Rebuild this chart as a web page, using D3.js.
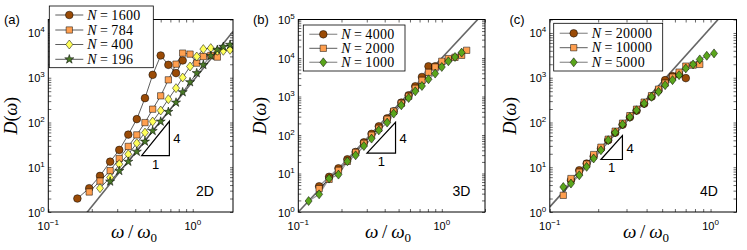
<!DOCTYPE html>
<html><head><meta charset="utf-8">
<script src="https://cdn.jsdelivr.net/npm/d3@7"></script>
<style>body{margin:0;background:#fff}svg{display:block}</style>
</head><body><svg id="c" width="747" height="250"></svg>
<script>
// ---------------- DATA ----------------
// Panel (a) 2D
const a_w1600 = [0.159,0.192,0.228,0.268,0.310,0.358,0.410,0.467,0.528,0.600,0.678,0.766,0.852];
const a_D1600 = [2.0,3.4,6.4,13.3,24.4,53.6,119,350,1160,3140,1940,1270,2430];
const a_w784  = [0.192,0.228,0.268,0.310,0.358,0.410,0.467,0.528,0.600,0.678,0.766,0.852,0.958,1.066,1.184,1.333,1.480];
const a_D784  = [2.8,4.9,8.4,15.7,29.2,52.8,99.5,198,394,897,2010,3550,3370,2120,2980,3140,2890];
const a_w400  = [0.228,0.268,0.310,0.358,0.410,0.467,0.528,0.600,0.678,0.766,0.852,0.958,1.066,1.184,1.333,1.480,1.628,1.812];
const a_D400  = [3.4,5.9,11.7,19.5,34.4,59.4,105,185,332,585,1010,1780,2980,4360,4590,4000,4000,4210];
const a_w196  = [0.268,0.310,0.358,0.410,0.467,0.528,0.600,0.678,0.766,0.852,0.958,1.066,1.184,1.333,1.480,1.628,1.812];
const a_D196  = [4.8,8.3,13.3,22.3,37.4,64.9,105,173,279,476,797,1270,1940,3090,4210,4910,5450];
// Panel (b) 3D
const b_w4000 = [0.1397,0.1639,0.1905,0.2198,0.2509,0.2865,0.3239,0.3639,0.4160,0.4622,0.5224,0.5871,0.6533,0.7270,0.8077,0.8987];
const b_D4000 = [4.65,8.21,13.65,23.4,36.2,64.6,107,168,271,413,694,1075,1841,3210,6085,6085];
const b_w2000 = [0.1397,0.1639,0.1905,0.2198,0.2509,0.2865,0.3239,0.3639,0.4160,0.4622,0.5224,0.5871,0.6533,0.7270,0.8077,0.8987,1.0,1.111,1.236,1.375,1.490];
const b_D2000 = [4.05,7.07,12.1,20.7,35.5,60.9,98.3,149,256,413,666,1012,1633,2636,4253,5840,8210,9645,10420,11750,15850];
const b_w1000 = [0.118,0.1397,0.1639,0.1905,0.2198,0.2509,0.2865,0.3239,0.3639,0.4160,0.4622,0.5224,0.5871,0.6533,0.7270,0.8077,0.8987,1.0,1.111,1.236,1.375];
const b_D1000 = [1.93,2.88,7.37,9.36,20.7,29.7,51.8,80.6,132,210,360,591,914,1365,1874,2798,3936,5840,8210,10620,13810];
// Panel (c) 4D
const c_w20000 = [0.1354,0.1525,0.1695,0.1874,0.2080,0.2309,0.2551,0.2836,0.3148,0.3465,0.3864,0.4294,0.4747,0.5216,0.5799,0.6372,0.7015];
const c_D20000 = [5.12,8.57,12.1,17.6,26.2,40.2,59.1,89.3,131,184,263,378,528,884,1086,1204,980];
const c_w10000 = [0.1213,0.1354,0.1525,0.1695,0.1874,0.2080,0.2309,0.2551,0.2836,0.3148,0.3465,0.3864,0.4294,0.4747,0.5216,0.5799,0.6372,0.7015,0.7785,0.8568];
const c_D10000 = [2.36,5.59,7.73,11.7,19.2,28.0,42.3,63.9,96.5,142,198,285,398,556,757,1031,1334,1817,1914,1984];
const c_w5000 = [0.1213,0.1354,0.1525,0.1695,0.1874,0.2080,0.2309,0.2551,0.2836,0.3148,0.3465,0.3864,0.4294,0.4747,0.5216,0.5799,0.6372,0.7015,0.7785,0.8568,0.9471,1.051];
const c_D5000 = [3.62,4.32,6.62,10.2,15.7,24.0,40.2,59.7,90.2,133,188,266,374,484,683,884,1143,1615,1984,2567,3090,3497];

// reference power law D = C * w^4
const refC = {a: 830, b: 1.0e4, c: 1.3e4};
// slope triangles: [w_left, w_right, D_bottom]
const triA = [0.443, 0.689, 18.2];
const triB = [0.301, 0.476, 34];
const triC = [0.208, 0.283, 14.9];
// labels
const legendA = ["1600","784","400","196"];
const legendB = ["4000","2000","1000"];
const legendC = ["20000","10000","5000"];
const xTickExp = [-1, 0];
const yTickExpA = [0,1,2,3,4];
const yTickExpB = [0,1,2,3,4,5];
const yTickExpC = [0,1,2,3,4];

// ---------------- DRAW ----------------
const svg = d3.select('#c');
const SANS = "'Liberation Sans', Arial, Helvetica, sans-serif";
const SERIF = "'Liberation Serif', 'Times New Roman', serif";
const TOP = 19.5, BOT = 212;

const zip = (w, D) => w.map((v, i) => [v, D[i]]);
const diamond = (w, h) => `M0,${-h/2}L${w/2},0L0,${h/2}L${-w/2},0Z`;
const MARK = {
  circle: d3.symbol().type(d3.symbolCircle).size(46)(),
  square: d3.symbol().type(d3.symbolSquare).size(40)(),
  diamond: diamond(7, 9),
  star: d3.symbol().type(d3.symbolStar).size(26)()
};
const COL = {brown:'#9a4b06', orange:'#ff9f4f', yellow:'#ffff5a', dgreen:'#4a7a28', green:'#5aa51c'};

const panels = [
  {id:'a', left:48.3, right:233, xdom:[0.1,1.9], ydom:[1,2e4], yExp:yTickExpA, C:refC.a, tri:triA,
   lbl:'(a)', lblX:4, dim:'2D', dimX:196, ylabX:11, xlabX:134,
   legend:{x:49.3, y:6, w:104, h:61.7, rows:[15,30,44.5,59.3]},
   series:[
     {n:legendA[0], d:zip(a_w1600,a_D1600), m:'circle', fill:COL.brown, lc:'#333', lw:0.8},
     {n:legendA[1], d:zip(a_w784,a_D784), m:'square', fill:COL.orange, lc:'#333', lw:0.8},
     {n:legendA[2], d:zip(a_w400,a_D400), m:'diamond', fill:COL.yellow, lc:'#333', lw:0.8},
     {n:legendA[3], d:zip(a_w196,a_D196), m:'star', fill:COL.dgreen, lc:'#333', lw:0.8}]},
  {id:'b', left:298.3, right:485, xdom:[0.1,2], ydom:[1,1e5], yExp:yTickExpB, C:refC.b, tri:triB,
   lbl:'(b)', lblX:253, dim:'3D', dimX:452.5, ylabX:260, xlabX:388,
   legend:{x:303.3, y:25, w:101.7, h:46, rows:[34.3,48.3,62.3]},
   series:[
     {n:legendB[0], d:zip(b_w4000,b_D4000), m:'circle', fill:COL.brown, lc:'#999', lw:1.3},
     {n:legendB[1], d:zip(b_w2000,b_D2000), m:'square', fill:COL.orange, lc:'#333', lw:0.8},
     {n:legendB[2], d:zip(b_w1000,b_D1000), m:'diamond', fill:COL.green, lc:'#999', lw:1.3}]},
  {id:'c', left:549.8, right:736.5, xdom:[0.1,1.45], ydom:[1,2e4], yExp:yTickExpC, C:refC.c, tri:triC,
   lbl:'(c)', lblX:509.5, dim:'4D', dimX:700, ylabX:510, xlabX:646,
   legend:{x:553.7, y:23.3, w:109, h:47.7, rows:[33.3,47.7,62.3]},
   series:[
     {n:legendC[0], d:zip(c_w20000,c_D20000), m:'circle', fill:COL.brown, lc:'#999', lw:1.3},
     {n:legendC[1], d:zip(c_w10000,c_D10000), m:'square', fill:COL.orange, lc:'#333', lw:0.8},
     {n:legendC[2], d:zip(c_w5000,c_D5000), m:'diamond', fill:COL.green, lc:'#999', lw:1.3}]}
];

function logTicks(dom){
  const out = [];
  for (let e = Math.floor(Math.log10(dom[0])); e <= Math.ceil(Math.log10(dom[1])); e++)
    for (let k = 1; k < 10; k++){ const v = k*Math.pow(10,e); if (v >= dom[0]*0.9999 && v <= dom[1]*1.0001) out.push(v); }
  return out;
}

function tenPow(sel, e, anchor){
  const t = sel.append('text').attr('font-family', SANS).attr('font-size', 11).attr('text-anchor', anchor).attr('fill','#000');
  t.append('tspan').text('10');
  t.append('tspan').attr('font-size', 8).attr('dy', -5).text(e < 0 ? '\u2212' + (-e) : String(e));
  return t;
}

panels.forEach(p => {
  const x = d3.scaleLog().domain(p.xdom).range([p.left, p.right]);
  const y = d3.scaleLog().domain(p.ydom).range([BOT, TOP]);
  const g = svg.append('g');
  const clipId = 'clip-' + p.id;
  svg.append('clipPath').attr('id', clipId).append('rect')
    .attr('x', p.left).attr('y', TOP).attr('width', p.right - p.left).attr('height', BOT - TOP);

  // ticks on all sides (inward)
  const xt = logTicks(p.xdom), yt = logTicks(p.ydom);
  const tickStyle = s => { s.select('.domain').remove(); s.selectAll('line').attr('stroke','#000').attr('stroke-width',0.6); };
  g.append('g').attr('transform', `translate(0,${BOT})`).call(d3.axisBottom(x).tickValues(xt).tickSize(-3).tickFormat('')).call(tickStyle);
  g.append('g').attr('transform', `translate(0,${TOP})`).call(d3.axisTop(x).tickValues(xt).tickSize(-3).tickFormat('')).call(tickStyle);
  g.append('g').attr('transform', `translate(${p.left},0)`).call(d3.axisLeft(y).tickValues(yt).tickSize(-3).tickFormat('')).call(tickStyle);
  g.append('g').attr('transform', `translate(${p.right},0)`).call(d3.axisRight(y).tickValues(yt).tickSize(-3).tickFormat('')).call(tickStyle);

  // tick labels
  xTickExp.forEach(e => { tenPow(g, e, 'middle').attr('x', x(Math.pow(10,e))).attr('y', BOT + 17.5); });
  p.yExp.forEach(e => { tenPow(g, e, 'end').attr('x', p.left - 3.5).attr('y', y(Math.pow(10,e)) + 4.5); });

  // reference line
  const dg = g.append('g').attr('clip-path', `url(#${clipId})`);
  dg.append('line')
    .attr('x1', x(p.xdom[0])).attr('y1', y(p.C*Math.pow(p.xdom[0],4)))
    .attr('x2', x(p.xdom[1])).attr('y2', y(p.C*Math.pow(p.xdom[1],4)))
    .attr('stroke', '#666').attr('stroke-width', 1.6);

  // data
  const line = d3.line().x(d => x(d[0])).y(d => y(d[1]));
  p.series.forEach(s => {
    dg.append('path').attr('d', line(s.d)).attr('fill','none').attr('stroke', s.lc).attr('stroke-width', s.lw);
  });
  p.series.forEach(s => {
    dg.selectAll(null).data(s.d).enter().append('path')
      .attr('d', MARK[s.m]).attr('transform', d => `translate(${x(d[0])},${y(d[1])})`)
      .attr('fill', s.fill).attr('stroke', '#000').attr('stroke-width', 0.5);
  });

  // slope triangle
  const [w1, w2, D1] = p.tri; const D2 = D1*Math.pow(w2/w1, 4);
  g.append('path').attr('d', `M${x(w1)},${y(D1)}L${x(w2)},${y(D1)}L${x(w2)},${y(D2)}Z`)
    .attr('fill','none').attr('stroke','#000').attr('stroke-width',1.2);
  g.append('text').attr('x', x(w2) + 4).attr('y', (y(D1)+y(D2))/2 + 5).attr('font-family', SANS).attr('font-size', 13).text('4');
  g.append('text').attr('x', (x(w1)+x(w2))/2).attr('y', y(D1) + 13).attr('text-anchor','middle').attr('font-family', SANS).attr('font-size', 13).text('1');

  // box
  g.append('rect').attr('x', p.left).attr('y', TOP).attr('width', p.right-p.left).attr('height', BOT-TOP)
    .attr('fill','none').attr('stroke','#000').attr('stroke-width',1);

  // dimension label
  g.append('text').attr('x', p.dimX).attr('y', 196).attr('font-family', SANS).attr('font-size', 14).text(p.dim);
  // panel label
  g.append('text').attr('x', p.lblX).attr('y', 23.5).attr('font-family', SANS).attr('font-size', 13).text(p.lbl);

  // axis labels
  const yl = g.append('text').attr('transform', `translate(${p.ylabX + 6},${(TOP+BOT)/2}) rotate(-90)`)
    .attr('text-anchor','middle').attr('font-family', SERIF).attr('font-size', 18);
  yl.append('tspan').attr('font-style','italic').text('D');
  yl.append('tspan').text('(');
  yl.append('tspan').attr('font-style','italic').text('\u03c9');
  yl.append('tspan').text(')');
  const xl = g.append('text').attr('x', p.xlabX).attr('y', 237.5).attr('text-anchor','middle').attr('font-family', SERIF).attr('font-size', 19);
  xl.append('tspan').attr('font-style','italic').text('\u03c9');
  xl.append('tspan').text('\u2009/\u2009');
  xl.append('tspan').attr('font-style','italic').text('\u03c9');
  xl.append('tspan').attr('font-size', 13).attr('dy', 4).text('0');

  // legend
  const L = p.legend;
  const lg = g.append('g');
  lg.append('rect').attr('x', L.x).attr('y', L.y).attr('width', L.w).attr('height', L.h)
    .attr('fill','#fff').attr('stroke','#000').attr('stroke-width',0.8);
  p.series.forEach((s, i) => {
    const yy = L.rows[i];
    lg.append('line').attr('x1', L.x + 6).attr('x2', L.x + 34).attr('y1', yy).attr('y2', yy).attr('stroke', s.lc).attr('stroke-width', s.lw);
    lg.append('path').attr('d', MARK[s.m]).attr('transform', `translate(${L.x+20},${yy})`).attr('fill', s.fill).attr('stroke','#000').attr('stroke-width',0.5);
    const t = lg.append('text').attr('x', L.x + 38).attr('y', yy + 4.5).attr('font-family', SERIF).attr('font-size', 14).attr('letter-spacing', 0.3);
    t.append('tspan').attr('font-style','italic').text('N');
    t.append('tspan').text('\u2009=\u2009' + s.n);
  });
});
</script></body></html>
